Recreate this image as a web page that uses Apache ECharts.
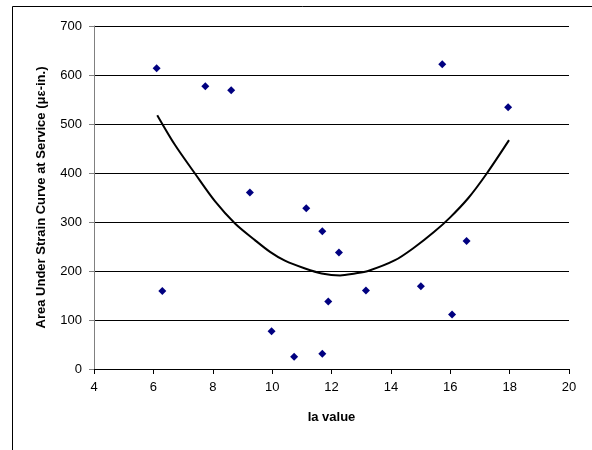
<!DOCTYPE html>
<html>
<head>
<meta charset="utf-8">
<script src="https://cdn.jsdelivr.net/npm/echarts@6/dist/echarts.min.js"></script>
<style>
  html, body { margin: 0; padding: 0; background: #fff; }
  #container { width: 592px; height: 450px; }
</style>
</head>
<body>
<div id="container"></div>
<script>
var dom = document.getElementById('container');
var myChart = echarts.init(dom, null, { renderer: 'canvas' });

// measured points
var iaValues = [6.11, 6.30, 7.75, 8.62, 9.25, 9.98, 10.74, 11.15, 11.69, 11.69, 11.89, 12.25, 13.16, 15.01, 16.06, 16.55, 15.73, 17.95];
var areaValues = [614, 159, 577, 569, 360, 77, 25, 328, 281, 31, 138, 238, 160, 169, 111, 261, 622, 534];

// trend curve
var trendX = [6.13, 6.73, 7.40, 8.08, 8.75, 9.42, 9.93, 10.43, 11.11, 11.67, 12.29, 12.79, 13.23, 14.14, 14.81, 15.46, 15.99, 16.61, 17.23, 17.98];
var trendY = [518, 457, 399, 342, 297, 263, 239, 221, 205, 195, 191, 195, 200, 222, 249, 280, 309, 349, 399, 467];

var xTicks = { min: 4, max: 20, interval: 2 };
var yTicks = { min: 0, max: 700, interval: 100 };

var font = 'Arial, "Liberation Sans", sans-serif';

var scatterData = iaValues.map(function (x, i) { return [x, areaValues[i]]; });
var trendData = trendX.map(function (x, i) { return [x, trendY[i]]; });

var option = {
    animation: false,
    backgroundColor: '#fff',
    graphic: [{
        type: 'rect',
        shape: { x: 12.5, y: 6.5, width: 700, height: 600 },
        style: { fill: 'none', stroke: '#000', lineWidth: 1 },
        silent: true
    }],
    grid: { left: 94, right: 23, top: 26, bottom: 81, containLabel: false },
    xAxis: {
        type: 'value',
        min: xTicks.min, max: xTicks.max, interval: xTicks.interval,
        name: 'Ia value',
        nameLocation: 'middle',
        nameGap: 42,
        nameTextStyle: { fontFamily: font, fontSize: 13, fontWeight: 'bold', color: '#000' },
        axisLine: { lineStyle: { color: '#000', width: 1 } },
        axisTick: { show: true, length: 5, lineStyle: { color: '#000' } },
        axisLabel: { margin: 12, fontFamily: font, fontSize: 13, color: '#000' },
        splitLine: { show: false }
    },
    yAxis: {
        type: 'value',
        min: yTicks.min, max: yTicks.max, interval: yTicks.interval,
        name: 'Area Under Strain Curve at Service (με-in.)',
        nameLocation: 'middle',
        nameRotate: 90,
        nameGap: 46,
        nameTextStyle: { fontFamily: font, fontSize: 13, fontWeight: 'bold', color: '#000' },
        axisLine: { show: true, lineStyle: { color: '#808080', width: 1 } },
        axisTick: { show: true, length: 5, lineStyle: { color: '#808080' } },
        axisLabel: { margin: 12, fontFamily: font, fontSize: 13, color: '#000' },
        splitLine: { show: true, lineStyle: { color: '#000', width: 1 } }
    },
    series: [
        {
            name: 'trend',
            type: 'line',
            data: trendData,
            smooth: 0.3,
            showSymbol: false,
            lineStyle: { color: '#000', width: 2 },
            z: 2
        },
        {
            name: 'data',
            type: 'scatter',
            data: scatterData,
            symbol: 'diamond',
            symbolSize: 8,
            itemStyle: { color: '#000080', opacity: 1 },
            z: 3
        }
    ]
};

myChart.setOption(option);
</script>
</body>
</html>
